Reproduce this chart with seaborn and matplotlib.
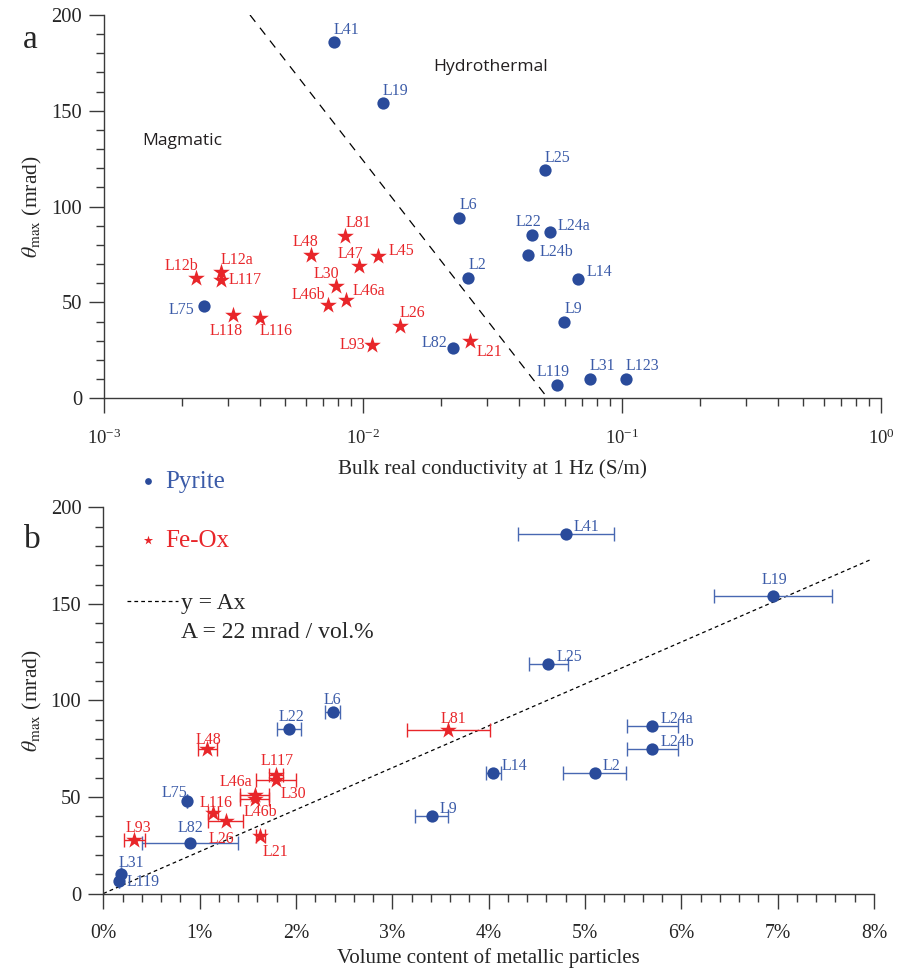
import numpy as np
import pandas as pd
import matplotlib
matplotlib.use("Agg")
import matplotlib.pyplot as plt
from matplotlib.ticker import MultipleLocator, PercentFormatter, LogLocator, NullFormatter
from matplotlib.lines import Line2D
import seaborn as sns


# pyrite samples (panel a: conductivity, panel b: volume content)
pyrite_names = ["L41", "L19", "L6", "L2", "L82", "L75", "L25", "L22",
                "L24a", "L24b", "L14", "L9", "L119", "L31", "L123"]
pyrite_sigma = [0.0077, 0.0119, 0.0234, 0.0254, 0.0223, 0.00244, 0.0502, 0.0449,
                0.0525, 0.0434, 0.0675, 0.0598, 0.0563, 0.0749, 0.1033]
pyrite_theta = [186, 154, 94, 62.5, 26, 48, 119, 85.2,
                86.6, 74.7, 62.4, 40, 6.7, 10.3, 10.1]
pyrite_vol = [4.80, 6.95, 2.38, 5.10, 0.90, 0.87, 4.62, 1.93,
              5.70, 5.70, 4.05, 3.41, 0.16, 0.18, np.nan]
pyrite_vol_err = [0.50, 0.61, 0.08, 0.33, 0.50, 0.0, 0.20, 0.125,
                  0.265, 0.265, 0.08, 0.17, 0.0, 0.0, np.nan]

# iron oxide samples
feox_names = ["L12b", "L12a", "L117", "L118", "L116", "L48", "L81", "L47",
              "L45", "L30", "L46a", "L46b", "L26", "L93", "L21"]
feox_sigma = [0.00227, 0.00282, 0.00282, 0.00314, 0.0040, 0.00632, 0.00855, 0.00969,
              0.0114, 0.00783, 0.0086, 0.00733, 0.0139, 0.01083, 0.0259]
feox_theta = [62.8, 65.7, 61.5, 43.2, 41.9, 74.8, 84.6, 68.8,
              74.4, 58.6, 51.2, 48.8, 37.5, 27.6, 30.0]
feox_vol = [np.nan, np.nan, 1.79, np.nan, 1.14, 1.08, 3.58, np.nan,
            np.nan, 1.79, 1.57, 1.57, 1.27, 0.32, 1.63]
feox_vol_err = [np.nan, np.nan, 0.07, np.nan, 0.05, 0.10, 0.43, np.nan,
                np.nan, 0.21, 0.15, 0.15, 0.18, 0.11, 0.05]

# magmatic / hydrothermal boundary (panel a)
boundary_sigma = [0.00366, 0.0517]
boundary_theta = [200, 0]

# linear fit y = Ax (panel b)
fit_vol = [0.0, 7.98]
fit_theta = [0.0, 173.2]

BLUE = "#2A4B9B"
BLUE_TXT = "#3B5BA8"
BLUE_BAR = "#4868B2"
RED = "#E8262A"
DARK = "#231F20"

# label placement: dx, dy (pixels, up positive), ha, va
label_pos_a = {
    "L41": (0, 8, "left", "baseline"), "L19": (0, 8, "left", "baseline"),
    "L6": (1, 9, "left", "baseline"), "L2": (1, 9, "left", "baseline"),
    "L82": (-6, 1, "right", "baseline"), "L75": (-10, -4, "right", "center"),
    "L25": (0, 8, "left", "baseline"), "L22": (-3, 9, "center", "baseline"),
    "L24a": (8, 6, "left", "center"), "L24b": (11, 3, "left", "center"),
    "L14": (9, 7, "left", "center"), "L9": (0, 9, "left", "baseline"),
    "L119": (-4, 9, "center", "baseline"), "L31": (0, 9, "left", "baseline"),
    "L123": (0, 9, "left", "baseline"),
    "L12b": (2, 8, "right", "baseline"), "L12a": (0, 8, "left", "baseline"),
    "L117": (8, 0, "left", "center"), "L118": (-7, -8, "center", "top"),
    "L116": (0, -5, "left", "top"), "L48": (-6, 9, "center", "baseline"),
    "L81": (0, 9, "left", "baseline"), "L47": (4, 8, "right", "baseline"),
    "L45": (11, 5, "left", "center"), "L30": (4, 8, "right", "baseline"),
    "L46a": (7, 9, "left", "center"), "L46b": (-3, 10, "right", "center"),
    "L26": (0, 9, "left", "baseline"), "L93": (-7, 0, "right", "center"),
    "L21": (7, -11, "left", "center"),
}
label_pos_b = {
    "L41": (8, 3, "left", "baseline"), "L19": (2, 12, "center", "baseline"),
    "L25": (8, 3, "left", "baseline"), "L24a": (8, 3, "left", "baseline"),
    "L24b": (8, 3, "left", "baseline"), "L14": (8, 3, "left", "baseline"),
    "L2": (8, 3, "left", "baseline"), "L9": (8, 3, "left", "baseline"),
    "L6": (0, 8, "center", "baseline"), "L22": (2, 8, "center", "baseline"),
    "L75": (0, 4, "right", "baseline"), "L82": (0, 11, "center", "baseline"),
    "L31": (-2, 7, "left", "baseline"), "L119": (8, -1, "left", "center"),
    "L81": (5, 7, "center", "baseline"), "L48": (1, 5, "center", "baseline"),
    "L117": (1, 10, "center", "baseline"), "L46a": (-2, 13, "right", "center"),
    "L30": (5, -14, "left", "center"), "L116": (3, 6, "center", "baseline"),
    "L46b": (-11, -13, "left", "center"), "L26": (-4, -10, "center", "top"),
    "L21": (2, -8, "left", "top"), "L93": (4, 8, "center", "baseline"),
}


def style_axis(ax, xsize):
    sns.despine(ax=ax)
    for side in ["left", "bottom"]:
        ax.spines[side].set_color("#3a3a3a")
        ax.spines[side].set_linewidth(1.0)
    ax.tick_params(which="major", length=10.8, width=1.0, color="#3a3a3a", direction="out")
    ax.tick_params(which="minor", length=5.5, width=1.0, color="#3a3a3a", direction="out")
    ax.tick_params(axis="x", which="major", pad=11, labelsize=xsize)
    ax.tick_params(axis="y", which="major", pad=5, labelsize=14.8)


def put_labels(ax, df, xcol, positions):
    for _, row in df.iterrows():
        dx, dy, ha, va = positions[row["name"]]
        col = BLUE_TXT if row["mineral"] == "Pyrite" else RED
        ax.annotate(row["name"], (row[xcol], row["theta"]), xytext=(dx, dy),
                    textcoords="offset pixels", ha=ha, va=va, color=col, fontsize=11.5)


def main():
    sns.set_style("ticks")
    plt.rcParams["font.family"] = ["Liberation Serif", "DejaVu Serif"]
    plt.rcParams["mathtext.fontset"] = "stix"

    pyr = pd.DataFrame({"name": pyrite_names, "sigma": pyrite_sigma, "theta": pyrite_theta,
                        "vol": pyrite_vol, "vol_err": pyrite_vol_err, "mineral": "Pyrite"})
    fe = pd.DataFrame({"name": feox_names, "sigma": feox_sigma, "theta": feox_theta,
                       "vol": feox_vol, "vol_err": feox_vol_err, "mineral": "Fe-Ox"})

    fig = plt.figure(figsize=(9, 9.69), dpi=100)
    ax_a = fig.add_axes([0.1156, 0.589, 0.8633, 0.3956])
    ax_b = fig.add_axes([0.1148, 0.0779, 0.8563, 0.3986])

    # ---- panel a
    ax_a.set_xscale("log")
    sns.lineplot(x=boundary_sigma, y=boundary_theta, ax=ax_a, color="black",
                 linewidth=0.9, linestyle=(0, (7, 6)))
    sns.scatterplot(data=pyr, x="sigma", y="theta", ax=ax_a, color=BLUE, marker="o",
                    s=78, linewidth=0, zorder=3)
    sns.scatterplot(data=fe, x="sigma", y="theta", ax=ax_a, color=RED, marker="*",
                    s=160, linewidth=0, zorder=3)
    put_labels(ax_a, pd.concat([pyr, fe]), "sigma", label_pos_a)

    ax_a.set_xlim(1e-3, 1)
    ax_a.set_ylim(0, 200)
    ax_a.xaxis.set_major_locator(LogLocator(base=10, numticks=10))
    ax_a.xaxis.set_minor_locator(LogLocator(base=10, subs=np.arange(2, 10), numticks=20))
    ax_a.xaxis.set_minor_formatter(NullFormatter())
    ax_a.yaxis.set_major_locator(MultipleLocator(50))
    ax_a.yaxis.set_minor_locator(MultipleLocator(10))
    style_axis(ax_a, 13.5)
    ax_a.set_xlabel("Bulk real conductivity at 1 Hz (S/m)", fontsize=15.2, labelpad=8)
    ax_a.set_ylabel(r"$\theta_{\rm max}$ (mrad)", fontsize=15.6, labelpad=5)
    ax_a.text(0.00141, 134, "Magmatic", family="Open Sans", fontsize=12.6,
              color=DARK, ha="left", va="center")
    ax_a.text(0.0186, 172.6, "Hydrothermal", family="Open Sans", fontsize=12.6,
              color=DARK, ha="left", va="center")

    # ---- panel b
    pyr_b = pyr.dropna(subset=["vol"])
    fe_b = fe.dropna(subset=["vol"])
    sns.lineplot(x=fit_vol, y=fit_theta, ax=ax_b, color="black",
                 linewidth=0.9, linestyle=(0, (3, 2.5)))
    ax_b.errorbar(pyr_b["vol"], pyr_b["theta"], xerr=pyr_b["vol_err"], fmt="none",
                  ecolor=BLUE_BAR, elinewidth=1.0, capsize=5, capthick=1.0, zorder=2)
    ax_b.errorbar(fe_b["vol"], fe_b["theta"], xerr=fe_b["vol_err"], fmt="none",
                  ecolor=RED, elinewidth=1.0, capsize=5, capthick=1.0, zorder=2)
    sns.scatterplot(data=pyr_b, x="vol", y="theta", ax=ax_b, color=BLUE, marker="o",
                    s=78, linewidth=0, zorder=3, label="Pyrite")
    sns.scatterplot(data=fe_b, x="vol", y="theta", ax=ax_b, color=RED, marker="*",
                    s=160, linewidth=0, zorder=3, label="Fe-Ox")
    put_labels(ax_b, pd.concat([pyr_b, fe_b]), "vol", label_pos_b)

    ax_b.set_xlim(0, 8)
    ax_b.set_ylim(0, 200)
    ax_b.xaxis.set_major_locator(MultipleLocator(1))
    ax_b.xaxis.set_minor_locator(MultipleLocator(0.2))
    ax_b.xaxis.set_major_formatter(PercentFormatter(xmax=100, decimals=0))
    ax_b.yaxis.set_major_locator(MultipleLocator(50))
    ax_b.yaxis.set_minor_locator(MultipleLocator(10))
    style_axis(ax_b, 14.2)
    ax_b.set_xlabel("Volume content of metallic particles", fontsize=15.0, labelpad=3.5)
    ax_b.set_ylabel(r"$\theta_{\rm max}$ (mrad)", fontsize=15.6, labelpad=5)

    handles, labels = ax_b.get_legend_handles_labels()
    leg1 = ax_b.legend(handles, labels, loc="center left", bbox_to_anchor=(0.0418, 0.99),
                       frameon=False, fontsize=18, markerscale=0.55, handlelength=1.0,
                       handletextpad=0.2, labelspacing=1.45, borderpad=0, borderaxespad=0,
                       labelcolor=[BLUE_TXT, RED])
    ax_b.add_artist(leg1)
    fit_handle = Line2D([], [], color="black", linewidth=0.9, linestyle=(0, (3, 2.5)))
    ax_b.legend([fit_handle], ["y = Ax"], loc="center left", bbox_to_anchor=(0.0307, 0.752),
                frameon=False, fontsize=17, handlelength=2.15, handletextpad=0.12,
                borderpad=0, borderaxespad=0)
    ax_b.text(0.1008, 0.6745, "A = 22 mrad / vol.%", transform=ax_b.transAxes,
              fontsize=17, ha="left", va="center")

    fig.text(30 / 900, 1 - 48 / 969, "a", fontsize=24, ha="center", va="baseline")
    fig.text(32 / 900, 1 - 548 / 969, "b", fontsize=24, ha="center", va="baseline")

    fig.savefig("out.png", dpi=100)
    plt.close(fig)


if __name__ == "__main__":
    main()
